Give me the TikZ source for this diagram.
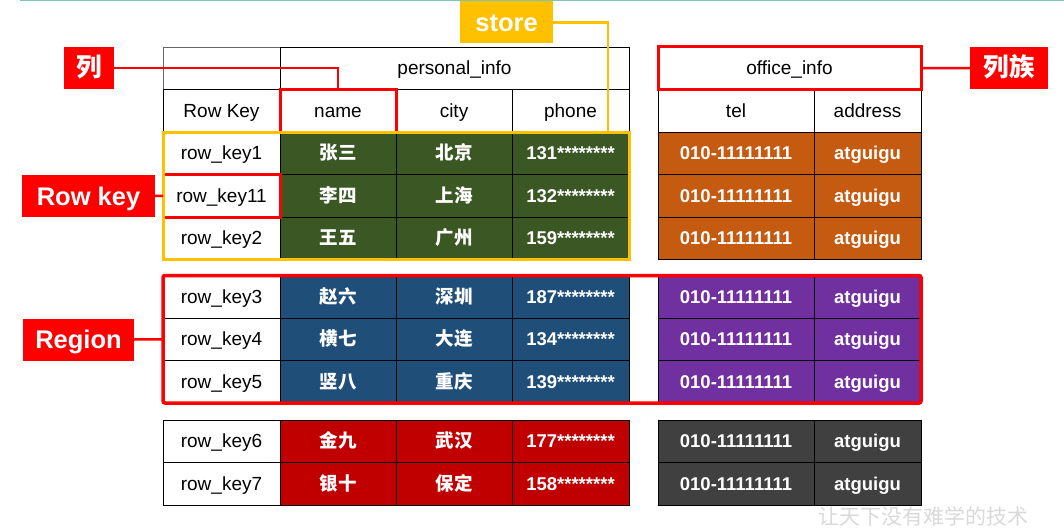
\documentclass[tikz,border=0pt]{standalone}
\usepackage{fontspec}
\setmainfont{Liberation Sans}
\newfontfamily\cjk{Noto Sans CJK SC}
\definecolor{kgreen}{HTML}{3A5724}
\definecolor{korange}{HTML}{C55A11}
\definecolor{kblue}{HTML}{1F4E79}
\definecolor{kpurple}{HTML}{7030A0}
\definecolor{kdred}{HTML}{C00000}
\definecolor{kgray}{HTML}{404040}
\definecolor{kred}{HTML}{FF0000}
\definecolor{kyellow}{HTML}{FFC000}
\definecolor{kteal}{HTML}{7FC4B6}
\begin{document}
\begin{tikzpicture}[x=1pt,y=-1pt,line join=miter,font=\fontsize{19}{19}\selectfont]
 \tikzset{cell/.style={draw=black,line width=.8pt,anchor=north west,inner sep=0pt,outer sep=0pt,minimum height=42.5pt,text height=15pt,text depth=2pt},
 data/.style={text=white,font=\bfseries\fontsize{18.5}{18.5}\selectfont},
 tag/.style={fill=kred,text=white,inner sep=0pt,minimum height=42pt,text height=21pt,text depth=3pt,font=\bfseries\fontsize{25.5}{25.5}\selectfont},
 redframe/.style={draw=kred,line width=3pt},
 redline/.style={draw=kred,line width=2.5pt}
 }
 \useasboundingbox (0,0) rectangle (1064,532);
 \draw[kteal,line width=1.5pt] (20,.75)--(1064,.75);
 % headers
 \node[cell,draw=black!60,minimum width=117pt] (corner) at (163,47) {};
 \node[cell,minimum width=349pt] (pinfo) at (280,47) {personal\_info};
 \node[cell,minimum width=117pt] (rkey) at (163,89.5) {Row Key};
 \node[cell,minimum width=116pt] (name) at (280,89.5) {name};
 \node[cell,minimum width=116pt] (city) at (396,89.5) {city};
 \node[cell,minimum width=117pt] (phone) at (512,89.5) {phone};
 \node[cell,minimum width=263pt] (office) at (658,47) {office\_info};
 \node[cell,minimum width=156pt] (tel) at (658,89.5) {tel};
 \node[cell,minimum width=107pt] (addr) at (814,89.5) {address};
 % rows
 \foreach \y/\k/\nm/\ct/\ph/\ca/\cb in {132/1/张三/北京/131/kgreen/korange,
 174.5/11/李四/上海/132/kgreen/korange,217/2/王五/广州/159/kgreen/korange,
 275.5/3/赵六/深圳/187/kblue/kpurple,318/4/横七/大连/134/kblue/kpurple,
 360.5/5/竖八/重庆/139/kblue/kpurple,
 420/6/金九/武汉/177/kdred/kgray,462.5/7/银十/保定/158/kdred/kgray}{
 \node[cell,minimum width=117pt] (k\k) at (163,\y) {row\_key\k};
 \node[cell,data,fill=\ca,minimum width=116pt] (n\k) at (280,\y) {\cjk\nm};
 \node[cell,data,fill=\ca,minimum width=116pt] (c\k) at (396,\y) {\cjk\ct};
 \node[cell,data,fill=\ca,minimum width=117pt] (p\k) at (512,\y) {\ph********};
 \node[cell,data,fill=\cb,minimum width=156pt] (t\k) at (658,\y) {010-11111111};
 \node[cell,data,fill=\cb,minimum width=107pt] (a\k) at (814,\y) {atguigu};
 }
 % frames
 \draw[redframe] (name.north west) rectangle (name.south east);
 \draw[redframe] (office.north west) rectangle (office.south east);
 \draw[redframe] (k11.north west) rectangle (k11.south east);
 \draw[draw=kyellow,line width=3pt] (k1.north west) rectangle (p2.south east);
 \draw[redframe,line width=3.5pt,rounded corners=2pt] (k3.north west) rectangle (a5.south east);
 % labels
 \node[tag,minimum width=50pt] (lie) at (89,68) {\cjk 列};
 \node[tag,minimum width=133pt] (rowkey) at (88.5,196) {Row key};
 \node[tag,minimum width=111pt] (region) at (78.5,339.5) {Region};
 \node[tag,fill=kyellow,minimum width=93pt] (store) at (506.5,22.5) {store};
 \node[tag,minimum width=78pt] (liezu) at (1009,68) {\cjk 列族};
 \coordinate (storeend) at (608,132);
 \draw[redline] (lie.east) -| (name.north);
 \draw[redline] (rowkey.east) -- (k11.west);
 \draw[redline] (region.east) -- (k4.west);
 \draw[redline] (office.east) -- (liezu.west);
 \draw[draw=kyellow,line width=2.5pt] (store.east) -| (storeend);
 \node[text=black!15,font=\cjk\fontsize{21}{21}\selectfont] (mark) at (923,516) {让天下没有难学的技术};
\end{tikzpicture}
\end{document}
